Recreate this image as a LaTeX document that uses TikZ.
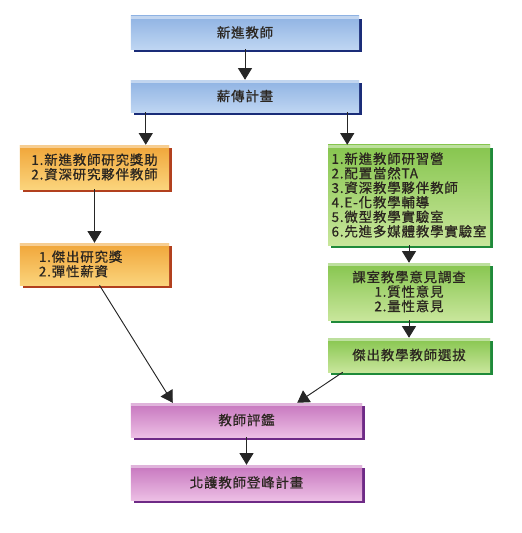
\documentclass[tikz,border=0pt]{standalone}
\usepackage{fontspec}
\setmainfont{Noto Sans CJK TC}[FakeBold=0.7, LetterSpace=6]
\usetikzlibrary{arrows.meta,shadows}

\definecolor{txtdark}{HTML}{2B2620}
\tikzset{
  flowbox/.style={draw=none, inner sep=2pt, font=\fontsize{11.5}{12.4}\selectfont, text=txtdark,
    path picture={\fill[white,opacity=.45] (path picture bounding box.north west)
      rectangle ([yshift=-2.5pt]path picture bounding box.north east);}},
  bluebox/.style={flowbox, top color={rgb,255:red,143;green,179;blue,227},
    bottom color={rgb,255:red,190;green,213;blue,242},
    drop shadow={fill={rgb,255:red,26;green,44;blue,120}, opacity=1, shadow xshift=2.5pt, shadow yshift=-2.5pt}},
  orangebox/.style={flowbox, align=left, top color={rgb,255:red,240;green,165;blue,56},
    bottom color={rgb,255:red,251;green,212;blue,124},
    drop shadow={fill={rgb,255:red,178;green,64;blue,30}, opacity=1, shadow xshift=2.5pt, shadow yshift=-2.5pt}},
  greenbox/.style={flowbox, top color={rgb,255:red,134;green,197;blue,78},
    bottom color={rgb,255:red,200;green,230;blue,155},
    drop shadow={fill={rgb,255:red,31;green,138;blue,58}, opacity=1, shadow xshift=2.5pt, shadow yshift=-2.5pt}},
  purplebox/.style={flowbox, top color={rgb,255:red,198;green,117;blue,190},
    bottom color={rgb,255:red,236;green,190;blue,228},
    drop shadow={fill={rgb,255:red,110;green,42;blue,134}, opacity=1, shadow xshift=2.5pt, shadow yshift=-2.5pt}},
  arr/.style={-{Triangle[width=12pt,length=10pt]}, line width=0.8pt, black!85}
}

\begin{document}
\begin{tikzpicture}[x=0.03cm,y=-0.03cm]
  \useasboundingbox (0,0) rectangle (521,533);

  \node (newtchr) at (245,32.5) [bluebox, minimum width=6.84cm, minimum height=0.99cm]{新進教師};
  \node (mentor) at (245,96) [bluebox, minimum width=6.84cm, minimum height=0.96cm]{薪傳計畫};

  \node (res) at (94.5,167) [orangebox, minimum width=4.47cm, minimum height=1.32cm]{1.新進教師研究獎助\\2.資深研究夥伴教師};
  \node (award) at (94.5,264) [orangebox, minimum width=4.47cm, minimum height=1.26cm]{1.傑出研究獎\\2.彈性薪資\phantom{究獎助}};

  \node (teach) at (409,195) [greenbox, align=left, minimum width=4.86cm, minimum height=3cm]{1.新進教師研習營\\2.配置當然TA\\3.資深教學夥伴教師\\4.E-化教學輔導\\5.微型教學實驗室\\6.先進多媒體教學實驗室};
  \node (survey) at (409,291.5) [greenbox, align=center, minimum width=4.86cm, minimum height=1.71cm]{課室教學意見調查\\1.質性意見\\2.量性意見};
  \node (select) at (409,355) [greenbox, minimum width=4.86cm, minimum height=1.02cm]{傑出教學教師選拔};

  \node (eval) at (246.5,420) [purplebox, minimum width=6.93cm, minimum height=1.02cm]{教師評鑑};
  \node (peak) at (246.5,482.5) [purplebox, minimum width=6.93cm, minimum height=1.05cm]{北護教師登峰計畫};

  \draw[arr] (newtchr) -- (mentor);
  \draw[arr] ([xshift=0.45cm]mentor.south west) -- ([xshift=0.45cm]mentor.south west |- res.north);
  \draw[arr] ([xshift=-0.36cm]mentor.south east) -- ([xshift=-0.36cm]mentor.south east |- teach.north);

  \draw[arr] (res) -- (award);
  \draw[arr] (teach) -- (survey);
  \draw[arr] (survey) -- (select);

  \draw[arr] ([xshift=0.15cm]award.south) -- ([xshift=1.26cm]eval.north west);
  \draw[arr] ([xshift=0.45cm]select.south west) -- ([xshift=-1.95cm]eval.north east);

  \draw[arr] (eval) -- (peak);

\end{tikzpicture}
\end{document}
